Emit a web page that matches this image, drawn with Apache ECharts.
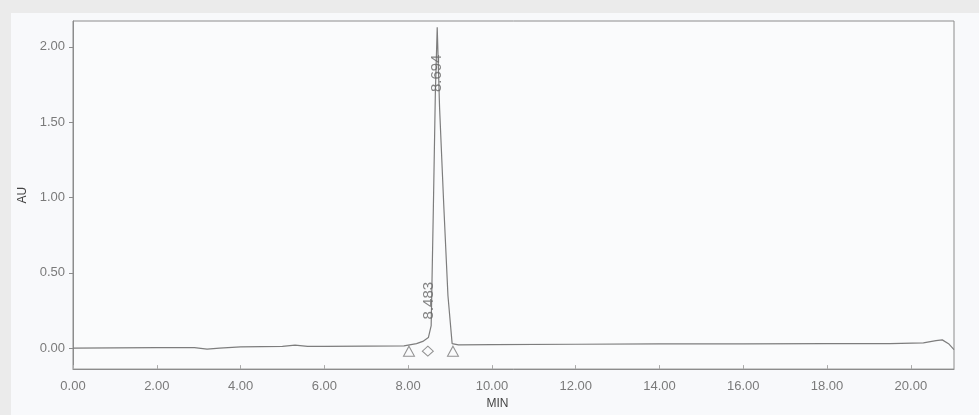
<!DOCTYPE html>
<html>
<head>
<meta charset="utf-8">
<script src="https://cdn.jsdelivr.net/npm/echarts@6/dist/echarts.min.js"></script>
<style>
html,body{margin:0;padding:0;background:#ebebeb;}
#card{position:absolute;left:11px;top:13px;width:968px;height:402px;background:#f8f9fb;}
#chart{position:absolute;left:0;top:0;width:979px;height:415px;}
</style>
</head>
<body>
<div id="card"></div>
<div id="chart"></div>
<script>
// Chromatogram trace (time in min, absorbance in AU)
const times = [0, 1, 2, 2.9, 3.2, 3.5, 4, 5, 5.3, 5.6, 6, 7, 7.9, 8.0, 8.2, 8.35, 8.483, 8.55, 8.6, 8.65, 8.694, 8.75, 8.85, 8.95, 9.05, 9.2, 10, 12, 14, 16, 18, 19.5, 20.3, 20.6, 20.75, 20.9, 21.03];
const values = [0.0, 0.002, 0.004, 0.003, -0.006, 0.0, 0.008, 0.012, 0.02, 0.012, 0.012, 0.014, 0.015, 0.02, 0.03, 0.045, 0.07, 0.15, 0.9, 1.7, 2.13, 1.6, 0.95, 0.35, 0.03, 0.022, 0.024, 0.026, 0.028, 0.028, 0.03, 0.03, 0.035, 0.05, 0.055, 0.03, -0.01];
// Peak labels
const peakTimes = [8.483, 8.694];
const peakHeights = [0.07, 2.13];
const peakNames = ["8.483", "8.694"];
// Integration markers
const markerTimes = [8.02, 8.47, 9.07];
const markerLevels = [-0.02, -0.02, -0.02];
const markerSymbols = ["triangle", "diamond", "triangle"];
// Axis ticks
const xTicks = [0, 2, 4, 6, 8, 10, 12, 14, 16, 18, 20];
const yTicks = [0, 0.5, 1, 1.5, 2];

const trace = times.map((t, i) => [t, values[i]]);
const peakLabelOffsets = [[37, 0], [-46, 0]];
const peakData = peakTimes.map((t, i) => ({
  value: [t, peakHeights[i]],
  name: peakNames[i],
  label: { offset: peakLabelOffsets[i] }
}));
const markerData = markerTimes.map((t, i) => ({
  value: [t, markerLevels[i]],
  symbol: markerSymbols[i]
}));

const axisGray = '#8c8c8c';
const font = 'Liberation Sans, Arial';
const chart = echarts.init(document.getElementById('chart'));
chart.setOption({
  animation: false,
  backgroundColor: 'transparent',
  grid: { left: 73, right: 25, top: 21, bottom: 44, show: true, borderColor: axisGray, borderWidth: 1, backgroundColor: '#fafbfc' },
  xAxis: {
    type: 'value', min: 0, max: 21.03,
    name: 'MIN', nameLocation: 'middle', nameGap: 28,
    nameTextStyle: { color: '#444', fontSize: 12, fontFamily: font, padding: [0, 32, 0, 0] },
    axisLine: { show: true, onZero: false, lineStyle: { color: axisGray } },
    axisTick: { show: true, inside: true, length: 4, customValues: xTicks, lineStyle: { color: '#aaa' } },
    axisLabel: { customValues: xTicks, margin: 11, color: '#7a7a7a', fontSize: 13, fontFamily: font, formatter: v => v.toFixed(2) },
    splitLine: { show: false }
  },
  yAxis: {
    type: 'value', min: -0.139, max: 2.172,
    name: 'AU', nameLocation: 'middle', nameGap: 41,
    nameTextStyle: { color: '#444', fontSize: 12, fontFamily: font },
    axisLine: { show: true, onZero: false, lineStyle: { color: axisGray } },
    axisTick: { show: true, length: 4, customValues: yTicks, lineStyle: { color: axisGray } },
    axisLabel: { customValues: yTicks, margin: 8, color: '#7a7a7a', fontSize: 13, fontFamily: font, formatter: v => v.toFixed(2) },
    splitLine: { show: false }
  },
  series: [
    {
      type: 'line', data: trace, showSymbol: false, symbol: 'none',
      lineStyle: { color: '#7d7d7d', width: 1.2 }, z: 2
    },
    {
      type: 'scatter', data: markerData, symbolSize: [11, 10],
      itemStyle: { color: 'rgba(0,0,0,0)', borderColor: '#777', borderWidth: 1 }, z: 3
    },
    {
      type: 'scatter', data: peakData, symbolSize: 0,
      label: {
        show: true, formatter: p => p.name, rotate: 90, position: 'inside',
        color: '#666', fontSize: 15, fontFamily: font
      }, z: 4
    }
  ]
});
</script>
</body>
</html>
